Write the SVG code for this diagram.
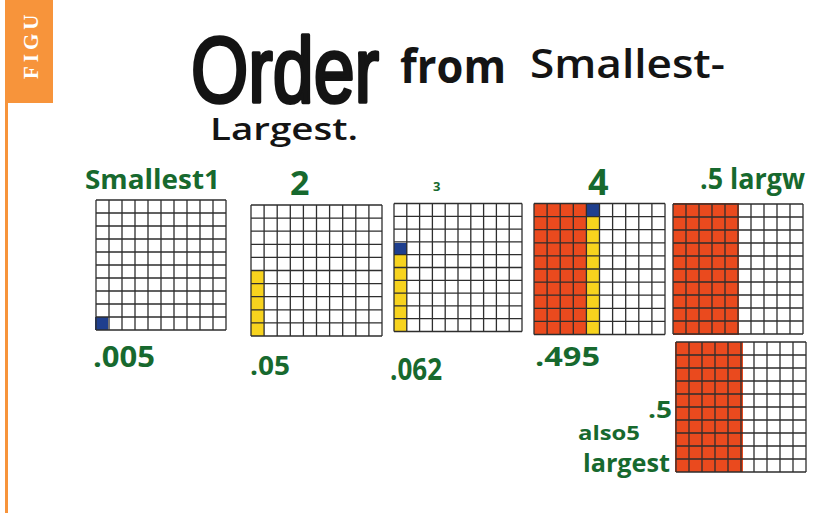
<svg xmlns="http://www.w3.org/2000/svg" width="835" height="513" viewBox="0 0 835 513">
<style>
.title{font-family:"Open Sans","Liberation Sans",sans-serif;font-weight:700;fill:#141414}
.thin{font-weight:600}
.big{font-family:"Liberation Sans",sans-serif;font-weight:400;fill:#141414;stroke:#141414;stroke-width:3.5;stroke-linejoin:round}
.lab{font-family:"Open Sans","Liberation Sans",sans-serif;font-weight:700;fill:#17692e}
.red{fill:#ea4a1e}
.yel{fill:#f7d31e}
.blu{fill:#1f3f8e}
.gl{fill:none;stroke:#2e2e2e;stroke-width:1.3}
</style>
<defs>
<symbol id="grid" viewBox="0 0 130 130" overflow="visible">
<path class="gl" vector-effect="non-scaling-stroke" d="M0 0V130M13 0V130M26 0V130M39 0V130M52 0V130M65 0V130M78 0V130M91 0V130M104 0V130M117 0V130M130 0V130M0 0H130M0 13H130M0 26H130M0 39H130M0 52H130M0 65H130M0 78H130M0 91H130M0 104H130M0 117H130M0 130H130"/>
</symbol>
</defs>
<rect width="835" height="513" fill="#ffffff"/>
<!-- figure tab -->
<rect x="5" y="0" width="48" height="103" fill="#f7943b"/>
<rect x="5" y="103" width="3" height="410" fill="#f7943b"/>
<text x="0" y="0" transform="translate(38,79) rotate(-90)" font-family="'Liberation Serif',serif" font-size="21" font-weight="700" fill="#ffffff" letter-spacing="4">FIGU</text>
<!-- title -->
<text class="big" x="0" y="0" transform="translate(191,102) scale(0.8,1)" font-size="92">Order</text>
<text class="title" x="400" y="83" font-size="46" textLength="106" lengthAdjust="spacingAndGlyphs">from</text>
<text class="title thin" x="530" y="78" font-size="40" textLength="195" lengthAdjust="spacingAndGlyphs">Smallest-</text>
<text class="title thin" x="210" y="140" font-size="31" textLength="148" lengthAdjust="spacingAndGlyphs">Largest.</text>
<!-- top labels -->
<text class="lab" x="85" y="189" font-size="26" textLength="135" lengthAdjust="spacingAndGlyphs">Smallest1</text>
<text class="lab" x="290" y="195" font-size="34">2</text>
<text class="lab" x="433" y="191" font-size="13">3</text>
<text class="lab" x="588" y="195" font-size="36">4</text>
<text class="lab" x="700" y="189" font-size="28" textLength="105" lengthAdjust="spacingAndGlyphs">.5 largw</text>
<!-- grid 1 -->
<g id="grid1">
<rect x="95" y="200" width="132" height="130" fill="#fff"/>
<rect class="blu" x="95" y="317" width="13" height="13"/>
<use href="#grid" x="95" y="200" width="132" height="130"/>
</g>
<!-- grid 2 -->
<g id="grid2">
<rect class="yel" x="251" y="271" width="13" height="65"/>
<use href="#grid" x="251" y="205" width="131" height="131"/>
</g>
<!-- grid 3 -->
<g id="grid3">
<rect class="yel" x="394" y="255" width="13" height="77"/>
<rect class="blu" x="394" y="243" width="13" height="12"/>
<use href="#grid" x="394" y="203" width="128" height="129"/>
</g>
<!-- grid 4 -->
<g id="grid4">
<rect class="red" x="534" y="203" width="52" height="132"/>
<rect class="yel" x="586" y="216" width="13" height="119"/>
<rect class="blu" x="586" y="203" width="13" height="13"/>
<use href="#grid" x="534" y="203" width="131" height="132"/>
</g>
<!-- grid 5 -->
<g id="grid5">
<rect class="red" x="673" y="203" width="66" height="132"/>
<use href="#grid" x="673" y="203" width="130" height="132"/>
</g>
<!-- grid 6 -->
<g id="grid6">
<rect class="red" x="675" y="342" width="68" height="130"/>
<use href="#grid" x="675" y="342" width="132" height="130"/>
</g>
<!-- bottom labels -->
<text class="lab" x="93" y="367" font-size="28" textLength="62" lengthAdjust="spacingAndGlyphs">.005</text>
<text class="lab" x="250" y="375" font-size="26" textLength="40" lengthAdjust="spacingAndGlyphs">.05</text>
<text class="lab" x="390" y="380" font-size="30" textLength="52" lengthAdjust="spacingAndGlyphs">.062</text>
<text class="lab" x="535" y="366" font-size="26" textLength="65" lengthAdjust="spacingAndGlyphs">.495</text>
<text class="lab" x="648" y="418" font-size="24" textLength="24" lengthAdjust="spacingAndGlyphs">.5</text>
<text class="lab" x="578" y="440" font-size="19" textLength="62" lengthAdjust="spacingAndGlyphs">also5</text>
<text class="lab" x="583" y="472" font-size="25" textLength="87" lengthAdjust="spacingAndGlyphs">largest</text>
</svg>
